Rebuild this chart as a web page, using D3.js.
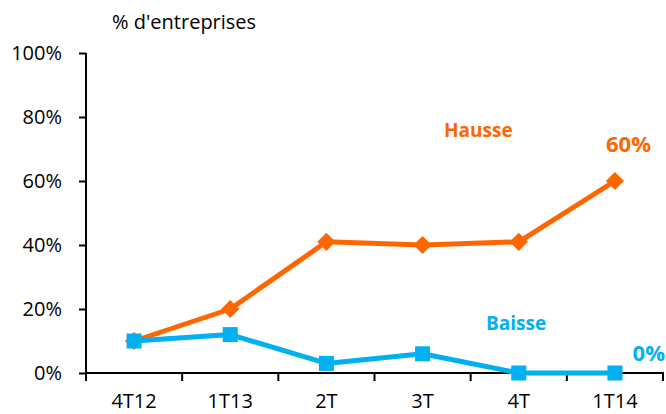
<!DOCTYPE html>
<html>
<head>
<meta charset="utf-8">
<script src="https://d3js.org/d3.v7.min.js"></script>
<style>
  body { margin: 0; background: #fff; }
  text { font-family: "Open Sans", "Noto Sans", sans-serif; }
</style>
</head>
<body>
<svg width="666" height="414"></svg>
<script>
var categories = ["4T12", "1T13", "2T", "3T", "4T", "1T14"];
var hausse = [10, 20, 41, 40, 41, 60];
var baisse = [10, 12, 3, 6, 0, 0];
var yTicks = [0, 20, 40, 60, 80, 100];

var svg = d3.select("svg");
var mLeft = 86, mRight = 663, mTop = 53, mBottom = 373;

var x = d3.scaleBand().domain(categories).range([mLeft, mRight]);
var y = d3.scaleLinear().domain([0, 100]).range([mBottom, mTop]);

// axes
svg.append("g")
  .attr("transform", "translate(" + mLeft + ",0)")
  .call(d3.axisLeft(y).tickValues(yTicks).tickSize(7).tickFormat(d => d + "%"))
  .call(g => g.select(".domain").attr("stroke-width", 2).attr("d", "M0," + mTop + "V" + mBottom))
  .call(g => g.selectAll(".tick line").attr("stroke-width", 2))
  .call(g => g.selectAll(".tick text").attr("x", -24).attr("font-size", 20).attr("fill", "#000").attr("font-family", "Open Sans"));

var xAxis = svg.append("g")
  .attr("transform", "translate(0," + mBottom + ")");
xAxis.append("line")
  .attr("x1", mLeft).attr("x2", mRight + 1)
  .attr("stroke", "#000").attr("stroke-width", 2);
xAxis.selectAll(".xt")
  .data(d3.range(categories.length + 1))
  .enter().append("line")
  .attr("x1", i => mLeft + i * x.bandwidth())
  .attr("x2", i => mLeft + i * x.bandwidth())
  .attr("y1", 0).attr("y2", 8)
  .attr("stroke", "#000").attr("stroke-width", 2);
xAxis.selectAll(".xl")
  .data(categories)
  .enter().append("text")
  .attr("x", d => x(d) + x.bandwidth() / 2)
  .attr("y", 35)
  .attr("text-anchor", "middle")
  .attr("font-size", 20)
  .text(d => d);

svg.append("text")
  .attr("x", 112).attr("y", 29)
  .attr("font-size", 20)
  .text("% d'entreprises");

var cx = d => x(d) + x.bandwidth() / 2;
var line = d3.line().x((d, i) => cx(categories[i])).y(d => y(d));

// Hausse
svg.append("path")
  .datum(hausse)
  .attr("d", line)
  .attr("fill", "none")
  .attr("stroke", "#FF6600")
  .attr("stroke-width", 5)
  .attr("stroke-linejoin", "round");
svg.selectAll(".dia")
  .data(hausse)
  .enter().append("path")
  .attr("d", d3.symbol().type(d3.symbolDiamond2).size(210))
  .attr("transform", (d, i) => "translate(" + cx(categories[i]) + "," + y(d) + ")")
  .attr("fill", "#FF6600");

// Baisse
svg.append("path")
  .datum(baisse)
  .attr("d", line)
  .attr("fill", "none")
  .attr("stroke", "#00B0F0")
  .attr("stroke-width", 5)
  .attr("stroke-linejoin", "round");
svg.selectAll(".sq")
  .data(baisse)
  .enter().append("rect")
  .attr("x", (d, i) => cx(categories[i]) - 7.5)
  .attr("y", d => y(d) - 7.5)
  .attr("width", 15).attr("height", 15)
  .attr("fill", "#00B0F0");

// labels
svg.append("text").attr("x", 444).attr("y", 137)
  .attr("font-size", 19).attr("font-weight", "bold").attr("fill", "#FF6600").text("Hausse");
svg.append("text").attr("x", 651).attr("y", 152).attr("text-anchor", "end")
  .attr("font-size", 22).attr("font-weight", "bold").attr("fill", "#FF6600").text("60%");
svg.append("text").attr("x", 486).attr("y", 330)
  .attr("font-size", 19).attr("font-weight", "bold").attr("fill", "#00B0F0").text("Baisse");
svg.append("text").attr("x", 665).attr("y", 361).attr("text-anchor", "end")
  .attr("font-size", 22).attr("font-weight", "bold").attr("fill", "#00B0F0").text("0%");
</script>
</body>
</html>
